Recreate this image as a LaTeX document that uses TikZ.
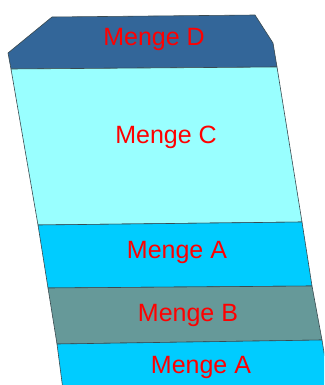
\documentclass[tikz,border=0pt]{standalone}
\usepackage{fontspec}
\setmainfont{Liberation Sans}
\definecolor{cD}{HTML}{336699}
\definecolor{cC}{HTML}{99FFFF}
\definecolor{cA}{HTML}{00CCFF}
\definecolor{cB}{HTML}{669999}
\definecolor{edge}{HTML}{3A4A50}
\begin{document}
\begin{tikzpicture}[x=1pt,y=-1pt,
  layer/.style={draw=edge,line width=0.6pt,line join=round},
  lbl/.style={text=red,anchor=base,inner sep=0pt,font=\fontsize{25}{30}\selectfont}]
\useasboundingbox (0,0) rectangle (324,385);
\begin{scope}
\clip (0,0) rectangle (324,385);
\coordinate (d1) at (52,17);
\coordinate (d2) at (255,15);
\coordinate (d3) at (273,43);
\coordinate (d4) at (277,67);
\coordinate (d5) at (11,69);
\coordinate (d6) at (8,53);
\coordinate (c3) at (302,222);
\coordinate (c4) at (38,225);
\coordinate (a3) at (312,286);
\coordinate (a4) at (48,288);
\coordinate (b3) at (322,340);
\coordinate (b4) at (57,344);
\coordinate (e3) at (330,390);
\coordinate (e4) at (63,390);
\filldraw[layer,fill=cD] (d1) -- (d2) -- (d3) -- (d4) -- (d5) -- (d6) -- cycle;
\filldraw[layer,fill=cC] (d5) -- (d4) -- (c3) -- (c4) -- cycle;
\filldraw[layer,fill=cA] (c4) -- (c3) -- (a3) -- (a4) -- cycle;
\filldraw[layer,fill=cB] (a4) -- (a3) -- (b3) -- (b4) -- cycle;
\filldraw[layer,fill=cA] (b4) -- (b3) -- (e3) -- (e4) -- cycle;
\end{scope}
\node[lbl] (tD) at (154,46) {Menge D};
\node[lbl] (tC) at (166,143) {Menge C};
\node[lbl] (tA1) at (177,258) {Menge A};
\node[lbl] (tB) at (188,321) {Menge B};
\node[lbl] (tA2) at (201,373) {Menge A};
\end{tikzpicture}
\end{document}
